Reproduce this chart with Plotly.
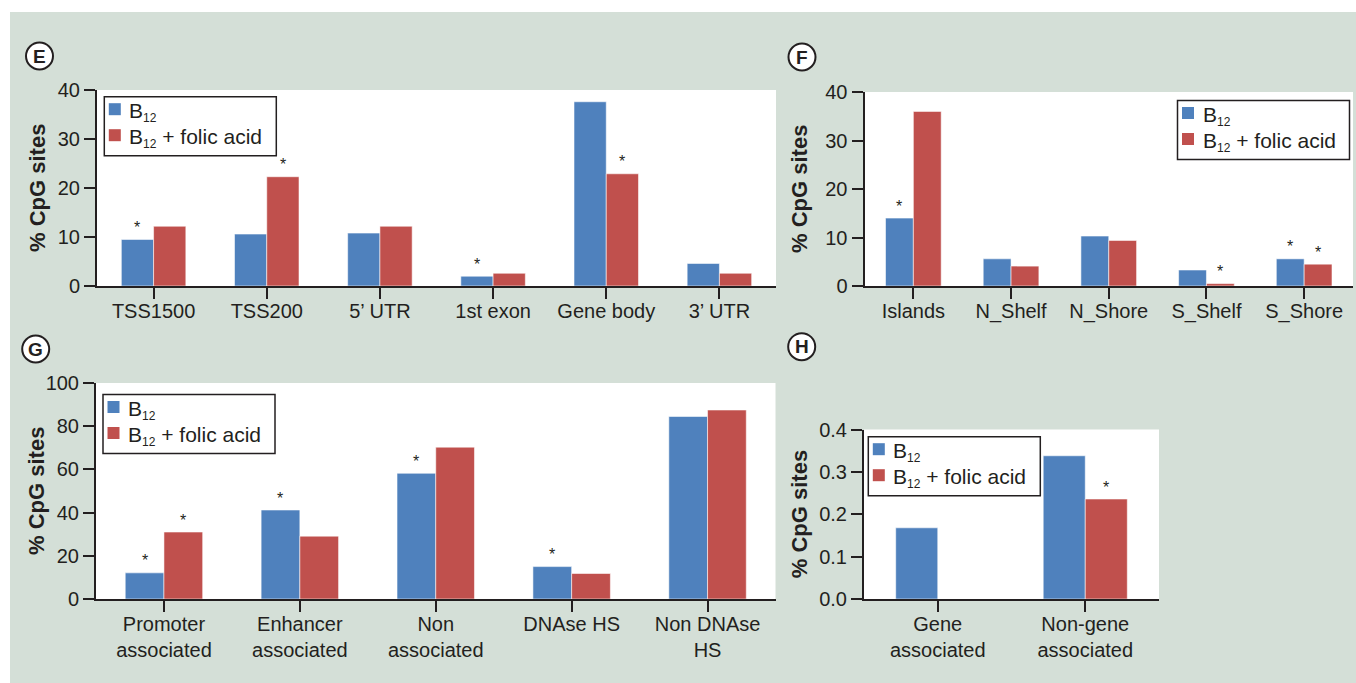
import plotly.graph_objects as go

W, H = 1356, 683

# ---- data -------------------------------------------------------------
e_cats = ["TSS1500", "TSS200", "5\u2019 UTR", "1st exon", "Gene body", "3\u2019 UTR"]
e_b12 = [9.5, 10.6, 10.8, 2.0, 37.6, 4.6]
e_b12fa = [12.2, 22.3, 12.2, 2.6, 22.9, 2.6]
e_sig_b12 = [1, 0, 0, 1, 0, 0]
e_sig_b12fa = [0, 1, 0, 0, 1, 0]

f_cats = ["Islands", "N_Shelf", "N_Shore", "S_Shelf", "S_Shore"]
f_b12 = [14.0, 5.6, 10.3, 3.3, 5.6]
f_b12fa = [36.0, 4.1, 9.4, 0.5, 4.5]
f_sig_b12 = [1, 0, 0, 0, 1]
f_sig_b12fa = [0, 0, 0, 1, 1]

g_cats = ["Promoter<br>associated", "Enhancer<br>associated", "Non<br>associated",
          "DNAse HS", "Non DNAse<br>HS"]
g_b12 = [12.1, 41.2, 58.2, 15.0, 84.5]
g_b12fa = [31.0, 29.1, 70.3, 11.8, 87.5]
g_sig_b12 = [1, 1, 1, 1, 0]
g_sig_b12fa = [1, 0, 0, 0, 0]

h_cats = ["Gene<br>associated", "Non-gene<br>associated"]
h_b12 = [0.168, 0.338]
h_b12fa = [None, 0.236]
h_sig_b12 = [0, 0]
h_sig_b12fa = [0, 1]

SUB12 = "<sub><span style='font-size:12px'>12</span></sub>"
series_names = ["B" + SUB12, "B" + SUB12 + " + folic acid"]

# ---- style ------------------------------------------------------------
BLUE = "#4f81bd"
RED = "#c0504d"
BG = "#d4dfd7"
INK = "#231f20"
FONT = "Liberation Sans, Arial, sans-serif"
BAR_W = 0.285


def px_x(x):
    return x / W


def px_y(y):
    return 1 - y / H


panels = [
    dict(letter="E", cats=e_cats, b=e_b12, r=e_b12fa, sb=e_sig_b12, sr=e_sig_b12fa,
         xd=(97, 776), yd=(90, 286), yr=(0, 40), dt=10, fmt="d",
         leg=(104.3, 96.7), lp=(39.5, 56), tx=37),
    dict(letter="F", cats=f_cats, b=f_b12, r=f_b12fa, sb=f_sig_b12, sr=f_sig_b12fa,
         xd=(864.5, 1353), yd=(92, 286), yr=(0, 40), dt=10, fmt="d",
         leg=(1177.5, 100.5), lp=(802, 57), tx=799),
    dict(letter="G", cats=g_cats, b=g_b12, r=g_b12fa, sb=g_sig_b12, sr=g_sig_b12fa,
         xd=(96, 775.5), yd=(383, 599), yr=(0, 100), dt=20, fmt="d",
         leg=(103, 394.5), lp=(35.7, 349), tx=36),
    dict(letter="H", cats=h_cats, b=h_b12, r=h_b12fa, sb=h_sig_b12, sr=h_sig_b12fa,
         xd=(864, 1159), yd=(429.5, 599), yr=(0, 0.4), dt=0.1, fmt=".1f",
         leg=(868.3, 436.7), lp=(801.7, 346.7), tx=799),
]

LEG_W, LEG_H = 172, 59

fig = go.Figure()
annotations = []
shapes = []
layout = {}

for k, p in enumerate(panels, start=1):
    sfx = "" if k == 1 else str(k)
    xa, ya = "x" + sfx, "y" + sfx

    for vals, color, off, name in ((p["b"], BLUE, -BAR_W, series_names[0]),
                                   (p["r"], RED, 0, series_names[1])):
        fig.add_trace(go.Bar(
            x=p["cats"], y=vals, name=name, marker_color=color,
            marker_line=dict(color="rgba(255,255,255,0.55)", width=1),
            width=BAR_W, offset=off, xaxis=xa, yaxis=ya, showlegend=False))

    layout["xaxis" + sfx] = dict(
        domain=[px_x(p["xd"][0]), px_x(p["xd"][1])], anchor=ya,
        type="category", range=[-0.5, len(p["cats"]) - 0.5],
        showline=True, linecolor=INK, linewidth=2,
        ticks="outside", ticklen=11, tickwidth=2, tickcolor=INK,
        ticklabelstandoff=-5,
        tickfont=dict(size=20, color=INK, family=FONT), automargin=False,
        showgrid=False, zeroline=False, fixedrange=True)
    layout["yaxis" + sfx] = dict(
        domain=[px_y(p["yd"][1]), px_y(p["yd"][0])], anchor=xa,
        range=list(p["yr"]), dtick=p["dt"], tick0=0, tickformat=p["fmt"],
        showline=True, linecolor=INK, linewidth=2,
        ticks="outside", ticklen=11, tickwidth=2, tickcolor=INK,
        tickfont=dict(size=20, color=INK, family=FONT), automargin=False,
        showgrid=False, zeroline=False, fixedrange=True)

    # significance asterisks above bars
    for i, (sb, sr) in enumerate(zip(p["sb"], p["sr"])):
        for flag, vals, dx in ((sb, p["b"], -BAR_W / 2), (sr, p["r"], BAR_W / 2)):
            if flag and vals[i] is not None:
                annotations.append(dict(
                    x=i + dx, y=vals[i], xref=xa, yref=ya, text="*",
                    showarrow=False, yanchor="middle", yshift=12,
                    font=dict(size=16, color=INK, family=FONT)))

    # y-axis title
    annotations.append(dict(
        x=px_x(p["tx"]), y=px_y((p["yd"][0] + p["yd"][1]) / 2),
        xref="paper", yref="paper", text="<b>% CpG sites</b>", textangle=-90,
        showarrow=False, xanchor="center", yanchor="middle",
        font=dict(size=22, color=INK, family=FONT)))

    # boxed key for the two series
    lx, ly = p["leg"]
    shapes.append(dict(
        type="rect", xref="paper", yref="paper",
        x0=px_x(lx), x1=px_x(lx + LEG_W), y0=px_y(ly + LEG_H), y1=px_y(ly),
        fillcolor="white", line=dict(color=INK, width=1.5), layer="above"))
    for j, (color, name) in enumerate(((BLUE, series_names[0]), (RED, series_names[1]))):
        cy = ly + 12.5 + 26 * j
        shapes.append(dict(
            type="rect", xref="paper", yref="paper",
            x0=px_x(lx + 4.5), x1=px_x(lx + 16.5), y0=px_y(cy + 6), y1=px_y(cy - 6),
            fillcolor=color, line_width=0, layer="above"))
        annotations.append(dict(
            x=px_x(lx + 23), y=px_y(cy + 3), xref="paper", yref="paper",
            text=name, showarrow=False, xanchor="left", yanchor="middle",
            font=dict(size=21, color=INK, family=FONT)))

    # circled panel letter
    cx, cy = p["lp"]
    rad = 13.5
    shapes.append(dict(
        type="circle", xref="paper", yref="paper",
        x0=px_x(cx - rad), x1=px_x(cx + rad), y0=px_y(cy + rad), y1=px_y(cy - rad),
        fillcolor="white", line=dict(color=INK, width=2), layer="above"))
    annotations.append(dict(
        x=px_x(cx), y=px_y(cy), xref="paper", yref="paper",
        text="<b>%s</b>" % p["letter"], showarrow=False,
        xanchor="center", yanchor="middle",
        font=dict(size=19, color=INK, family=FONT)))

# white page border around the shaded panel area
shapes.append(dict(type="rect", xref="paper", yref="paper", x0=0, x1=1,
                   y0=px_y(12), y1=1, fillcolor="white", line_width=0, layer="above"))
shapes.append(dict(type="rect", xref="paper", yref="paper", x0=0, x1=px_x(10),
                   y0=0, y1=1, fillcolor="white", line_width=0, layer="above"))

fig.update_layout(
    width=W, height=H, margin=dict(l=0, r=0, t=0, b=0, pad=0, autoexpand=False),
    paper_bgcolor=BG, plot_bgcolor="white",
    barmode="overlay", showlegend=False,
    font=dict(family=FONT, color=INK),
    annotations=annotations, shapes=shapes,
    **layout)

fig.write_html("out.html")
